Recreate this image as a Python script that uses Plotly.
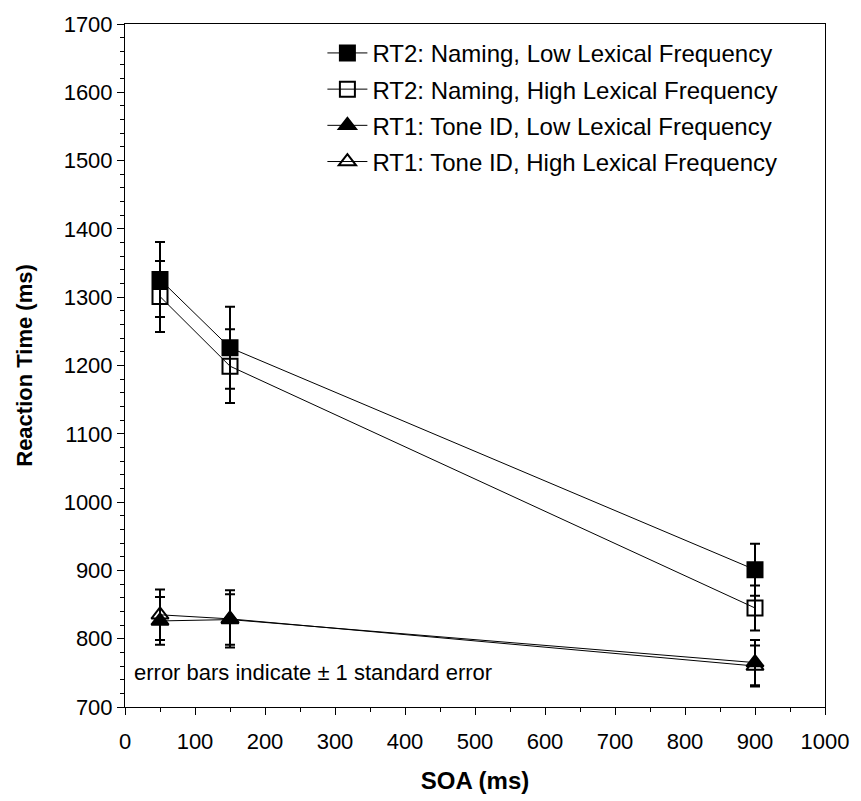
import plotly.graph_objects as go

soa = [50, 150, 900]

rt2_low = [1326, 1226, 901]
rt2_low_se = [55, 60, 38]
rt2_high = [1301, 1199, 845]
rt2_high_se = [52, 54, 33]
rt1_low = [826, 828, 765]
rt1_low_se = [35, 37, 33]
rt1_high = [835, 829, 760]
rt1_high_se = [37, 42, 30]

series = [
    ("RT2: Naming, Low Lexical Frequency", rt2_low, rt2_low_se, "square"),
    ("RT2: Naming, High Lexical Frequency", rt2_high, rt2_high_se, "square-open"),
    ("RT1: Tone ID, Low Lexical Frequency", rt1_low, rt1_low_se, "triangle-up"),
    ("RT1: Tone ID, High Lexical Frequency", rt1_high, rt1_high_se, "triangle-up-open"),
]

fig = go.Figure()
for i, (name, y, se, sym) in enumerate(series):
    fig.add_trace(go.Scatter(
        x=soa, y=y, name=name, mode="lines+markers", legendgroup=f"g{i}",
        line=dict(color="black", width=1),
        marker=dict(symbol=sym, size=15, color="black",
                    line=dict(color="black", width=2)),
        error_y=dict(type="data", array=se, visible=True,
                     color="black", thickness=2, width=5),
    ))

font_family = "Liberation Sans, Arial, sans-serif"
fig.update_layout(
    width=861, height=801,
    margin=dict(l=125, r=33, t=15, b=94),
    paper_bgcolor="white", plot_bgcolor="white",
    font=dict(family=font_family, size=22, color="black"),
    showlegend=True,
    legend=dict(x=0.282, y=0.99, xanchor="left", yanchor="top",
                font=dict(size=24), bgcolor="rgba(0,0,0,0)",
                tracegroupgap=2, itemwidth=40),
    xaxis=dict(range=[0, 1000], dtick=100, showgrid=False, zeroline=False,
               showline=True, linecolor="black", linewidth=1, mirror=True,
               ticks="outside", ticklen=7, tickcolor="black",
               minor=dict(dtick=50, ticks="outside", ticklen=4, tickcolor="black"),
               ticklabelstandoff=8,
               title=dict(text="<b>SOA (ms)</b>", font=dict(size=24), standoff=18),
               tickfont=dict(size=22)),
    yaxis=dict(range=[700, 1700], dtick=100, showgrid=False, zeroline=False,
               showline=True, linecolor="black", linewidth=1, mirror=True,
               ticks="outside", ticklen=7, tickcolor="black",
               minor=dict(dtick=20, ticks="outside", ticklen=4, tickcolor="black"),
               title=dict(text="<b>Reaction Time (ms)</b>", font=dict(size=22), standoff=24),
               tickfont=dict(size=22)),
)
fig.add_annotation(x=10, y=750, xref="x", yref="y", xanchor="left", yanchor="middle",
                   text="error bars indicate ± 1 standard error", showarrow=False,
                   font=dict(size=22))
fig.write_html("out.html")
